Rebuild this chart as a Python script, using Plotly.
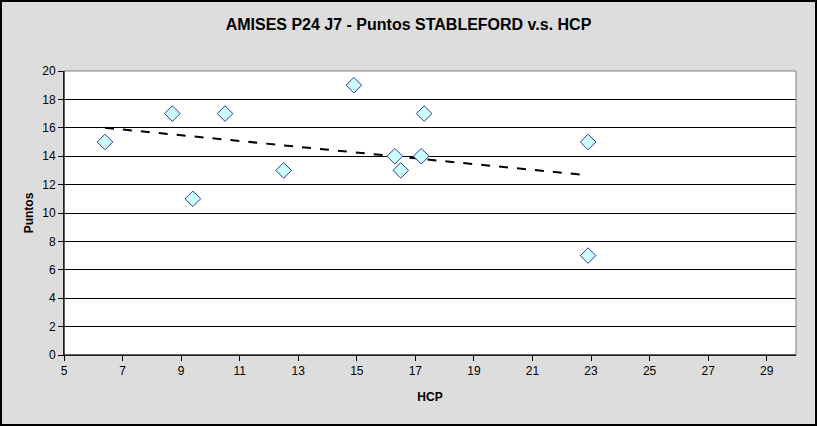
import numpy as np
import plotly.graph_objects as go

hcp = [6.4, 8.7, 9.4, 10.5, 12.5, 14.9, 16.3, 16.5, 17.2, 17.3, 22.9, 22.9]
puntos = [15, 17, 11, 17, 13, 19, 14, 13, 14, 17, 15, 7]
x_ticks = [5, 7, 9, 11, 13, 15, 17, 19, 21, 23, 25, 27, 29]
y_ticks = [0, 2, 4, 6, 8, 10, 12, 14, 16, 18, 20]

slope, intercept = np.polyfit(hcp, puntos, 1)
tx = [min(hcp), max(hcp)]
ty = [slope * v + intercept for v in tx]

W, H = 817, 426
L, R, T, B = 64, 21, 71, 71
pw, ph = W - L - R, H - T - B

fig = go.Figure()
fig.add_trace(go.Scatter(x=tx, y=ty, mode="lines",
                         line=dict(color="black", width=2, dash="dash"),
                         hoverinfo="skip", showlegend=False))
fig.add_trace(go.Scatter(x=hcp, y=puntos, mode="markers",
                         marker=dict(symbol="diamond", size=12, color="#CCFFFF",
                                     line=dict(color="#333399", width=1)),
                         showlegend=False))

font = "Liberation Sans, Arial, sans-serif"
fig.update_layout(
    width=W, height=H,
    margin=dict(l=L, r=R, t=T, b=B),
    paper_bgcolor="#DDDDDD", plot_bgcolor="white",
    font=dict(family=font, size=12, color="black"),
    title=dict(text="<b>AMISES P24 J7 - Puntos STABLEFORD v.s. HCP</b>",
               x=0.5, xanchor="center", y=1 - 24 / H, yanchor="middle",
               font=dict(size=16, family=font)),
    xaxis=dict(range=[5, 30], tickvals=x_ticks, showgrid=False, zeroline=False,
               showline=True, linecolor="black", linewidth=1,
               ticks="outside", ticklen=5, tickcolor="black",
               title=dict(text="<b>HCP</b>", font=dict(size=12), standoff=15)),
    yaxis=dict(range=[0, 20], tickvals=y_ticks, showgrid=True, gridcolor="black",
               gridwidth=1, zeroline=False,
               showline=True, linecolor="black", linewidth=1,
               ticks="outside", ticklen=5, tickcolor="black",
               title=dict(text="<b>Puntos</b>", font=dict(size=12), standoff=6)),
    shapes=[
        dict(type="rect", xref="paper", yref="paper", x0=0, x1=1, y0=0, y1=1,
             line=dict(color="#808080", width=1), layer="above"),
        dict(type="line", xref="paper", yref="paper", x0=0, x1=0, y0=0, y1=1,
             line=dict(color="black", width=1), layer="above"),
        dict(type="line", xref="paper", yref="paper", x0=0, x1=1, y0=0, y1=0,
             line=dict(color="black", width=1), layer="above"),
        dict(type="rect", xref="paper", yref="paper",
             x0=-(L - 1) / pw, x1=1 + (R - 1) / pw,
             y0=-(B - 1) / ph, y1=1 + (T - 1) / ph,
             line=dict(color="black", width=2)),
    ],
)
fig.write_html("out.html", config={"displayModeBar": False},
               post_script="document.body.style.margin='0';document.body.style.overflow='hidden';")
